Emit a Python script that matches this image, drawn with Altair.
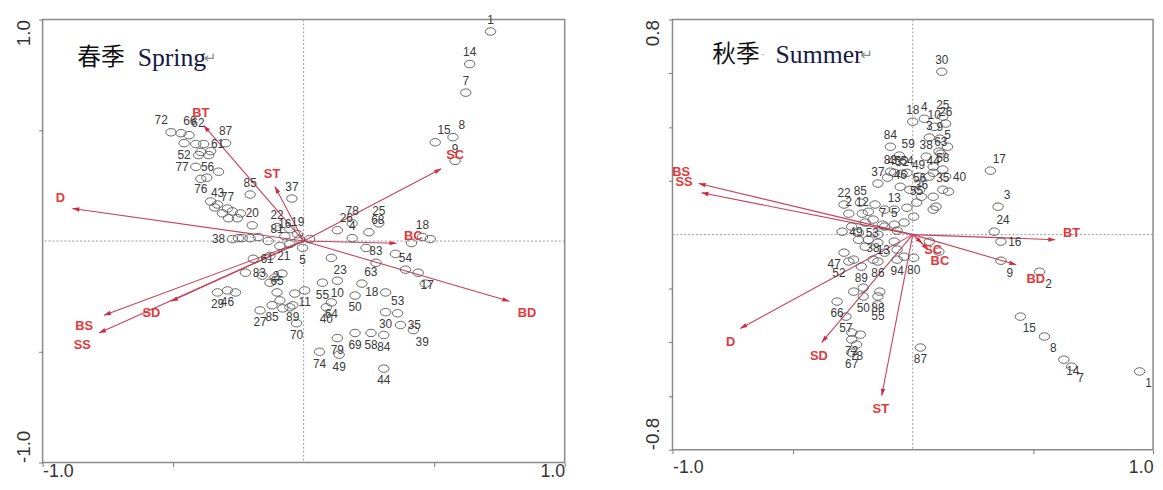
import math
import altair as alt
import pandas as pd

# ---------------- Spring (left panel) site scores ----------------
spring_x = [0.716, 0.636, 0.621, 0.504, 0.572, 0.580, 0.455, 0.485, 0.413, 0.129,
            0.186, 0.288, 0.250, 0.186, 0.239, 0.106, 0.277, 0.352, 0.223, 0.390,
            0.439, 0.466, 0.314, 0.314, 0.360, 0.371, 0.420, 0.258, 0.307, 0.307,
            0.061, 0.136, 0.129, 0.197, 0.197, 0.087, 0.106, 0.072, 0.129, 0.004,
            -0.027, -0.042, -0.004, -0.273, -0.235, -0.205, -0.174, -0.136, -0.091, -0.053,
            -0.193, -0.129, -0.223, -0.159, -0.330, -0.292, -0.261, -0.167, -0.129, -0.102,
            -0.091, -0.080, -0.053, -0.034, -0.110, -0.083, -0.121, -0.508, -0.470, -0.439,
            -0.299, -0.458, -0.413, -0.383, -0.356, -0.394, -0.402, -0.364, -0.413, -0.326,
            -0.394, -0.371, -0.205, -0.045, -0.356, -0.330, -0.292, -0.273, -0.242, -0.311,
            -0.288, -0.254, -0.341, -0.197, -0.102, -0.053, -0.023, -0.250, -0.015, 0.023,
            -0.072]
spring_y = [0.946, 0.799, 0.670, 0.446, 0.469, 0.362, 0.018, 0.009, -0.009, 0.049,
            0.080, 0.080, 0.040, 0.013, -0.031, -0.076, -0.098, -0.058, -0.192, -0.129,
            -0.143, -0.192, -0.232, -0.321, -0.326, -0.379, -0.402, -0.415, -0.424, -0.576,
            -0.500, -0.513, -0.438, -0.415, -0.246, -0.299, -0.277, -0.188, -0.179, -0.223,
            -0.371, -0.290, -0.031, 0.009, 0.013, 0.013, 0.018, 0.000, -0.022, -0.013,
            -0.080, -0.067, -0.143, -0.156, -0.232, -0.223, -0.232, -0.313, -0.188, -0.232,
            -0.268, -0.304, -0.299, -0.237, -0.165, -0.147, -0.290, 0.491, 0.487, 0.478,
            0.442, 0.442, 0.438, 0.438, 0.406, 0.402, 0.388, 0.388, 0.335, 0.313,
            0.281, 0.286, 0.210, 0.192, 0.179, 0.165, 0.147, 0.134, 0.125, 0.125,
            0.103, 0.103, 0.152, 0.071, 0.063, 0.054, 0.031, 0.013, 0.009, 0.009,
            0.022]
spring_id = ["1", "14", "7", "15", "8", "9", "18", "", "", "26",
             "78", "25", "68", "4", "", "23", "83", "", "63", "54",
             "17", "", "18", "30", "53", "35", "39", "58", "84", "44",
             "74", "49", "79", "69", "50", "40", "64", "55", "10", "11",
             "70", "89", "5", "38", "", "", "", "81", "", "",
             "61", "21", "83", "2", "29", "46", "", "27", "", "65",
             "", "", "", "", "", "", "85", "72", "66", "62",
             "87", "52", "", "61", "", "", "56", "", "77", "",
             "", "", "85", "37", "76", "43", "77", "", "", "",
             "", "", "", "20", "22", "", "19", "", "", "",
             "16"]
spring_lp = ["a", "a", "a", "ar", "ar", "a", "a", "a", "a", "ar",
             "a", "a", "ar", "a", "a", "br", "a", "a", "ar", "a",
             "br", "a", "l", "b", "a", "r", "br", "b", "b", "b",
             "b", "b", "b", "b", "b", "b", "b", "b", "b", "b",
             "b", "b", "b", "l", "a", "a", "a", "ar", "a", "a",
             "r", "r", "r", "r", "b", "b", "a", "b", "a", "a",
             "a", "a", "a", "a", "a", "a", "b", "al", "ar", "ar",
             "a", "b", "a", "r", "a", "a", "br", "a", "l", "a",
             "a", "a", "a", "a", "al", "a", "a", "a", "a", "a",
             "a", "a", "a", "a", "a", "a", "a", "a", "a", "a",
             "a"]

spring_env = ["BT", "ST", "D", "BS", "SS", "SD", "SC", "BC", "BD"]
spring_env_x = [-0.383, -0.110, -0.886, -0.765, -0.784, -0.508, 0.527, 0.356, 0.788]
spring_env_y = [0.522, 0.246, 0.147, -0.335, -0.415, -0.272, 0.326, -0.010, -0.272]
spring_env_lx = [-0.394, -0.121, -0.932, -0.841, -0.848, -0.583, 0.580, 0.420, 0.856]
spring_env_ly = [0.580, 0.304, 0.196, -0.384, -0.469, -0.326, 0.388, 0.022, -0.326]

# ---------------- Summer (right panel) site scores ----------------
summer_x = [0.121, 0.125, 0.000, 0.048, 0.089, 0.137, 0.069, 0.113, 0.145, -0.093,
            -0.056, 0.056, 0.117, 0.323, 0.355, 0.339, 0.367, -0.145, -0.093, -0.044,
            -0.286, -0.218, -0.266, -0.210, -0.077, -0.125, -0.077, 0.085, 0.137, 0.149,
            0.085, 0.036, 0.109, 0.085, 0.125, 0.069, 0.024, -0.024, -0.077, -0.105,
            -0.052, -0.012, 0.028, 0.085, 0.125, 0.097, 0.016, -0.024, 0.004, -0.036,
            -0.117, -0.157, -0.185, -0.165, -0.117, -0.198, -0.254, -0.294, -0.226, -0.065,
            -0.145, -0.185, -0.286, -0.266, -0.246, -0.214, -0.165, -0.117, -0.065, -0.036,
            0.004, -0.145, -0.077, -0.198, -0.226, -0.145, -0.065, -0.246, -0.206, -0.137,
            -0.206, -0.145, -0.145, -0.315, -0.278, -0.254, -0.218, -0.254, -0.234, -0.254,
            0.032, 0.069, 0.109, 0.367, 0.528, 0.448, 0.548, 0.629, 0.661, 0.944]
summer_y = [0.606, 0.439, 0.420, 0.431, 0.401, 0.413, 0.361, 0.357, 0.327, 0.327,
            0.294, 0.290, 0.301, 0.238, 0.104, 0.011, -0.026, 0.190, 0.234, 0.227,
            0.112, 0.119, 0.078, 0.078, 0.093, 0.037, 0.037, 0.230, 0.216, 0.160,
            0.093, 0.141, 0.309, 0.253, 0.242, 0.216, 0.216, 0.230, 0.230, 0.212,
            0.178, 0.167, 0.167, 0.141, 0.167, 0.104, 0.119, 0.100, 0.067, 0.045,
            0.093, 0.112, 0.085, 0.056, 0.030, 0.045, 0.030, 0.011, 0.007, 0.015,
            0.000, -0.019, -0.067, -0.100, -0.093, -0.119, -0.093, -0.067, -0.056, -0.082,
            -0.086, -0.030, -0.026, -0.045, -0.019, -0.100, -0.093, -0.212, -0.197, -0.212,
            -0.230, -0.230, -0.260, -0.249, -0.305, -0.364, -0.372, -0.390, -0.409, -0.439,
            -0.420, -0.026, -0.063, -0.097, -0.138, -0.305, -0.379, -0.465, -0.491, -0.509]
summer_id = ["30", "25", "18", "4", "10", "26", "3", "9", "5", "84",
             "59", "38", "63", "17", "3", "24", "16", "37", "83", "32",
             "22", "85", "2", "12", "13", "7", "5", "44", "40", "",
             "", "36", "", "", "58", "", "49", "54", "45", "",
             "46", "", "56", "", "35", "", "55", "", "", "",
             "", "", "", "", "", "", "", "49", "53", "",
             "", "", "47", "52", "", "89", "38", "", "13", "",
             "80", "", "", "", "", "86", "94", "", "", "",
             "50", "88", "55", "66", "57", "", "", "72", "78", "67",
             "87", "", "", "9", "2", "15", "8", "14", "7", "1"]
summer_lp = ["a", "a", "a", "a", "a", "a", "a", "a", "a", "a",
             "ar", "a", "a", "ar", "ar", "ar", "r", "a", "a", "a",
             "a", "a", "a", "a", "a", "a", "a", "a", "r", "a",
             "a", "a", "a", "a", "a", "a", "a", "a", "a", "a",
             "a", "a", "a", "a", "a", "a", "a", "a", "a", "a",
             "a", "a", "a", "a", "a", "a", "a", "r", "r", "a",
             "a", "a", "bl", "bl", "a", "b", "a", "a", "l", "a",
             "b", "a", "a", "a", "a", "b", "b", "a", "a", "a",
             "b", "b", "b", "b", "b", "a", "a", "b", "b", "b",
             "b", "a", "a", "br", "br", "br", "br", "br", "br", "br"]

summer_env = ["BS", "SS", "BT", "BD", "SC", "BC", "D", "SD", "ST"]
summer_env_x = [-0.891, -0.879, 0.593, 0.431, 0.040, 0.065, -0.718, -0.379, -0.129]
summer_env_y = [0.190, 0.156, -0.019, -0.112, -0.033, -0.056, -0.349, -0.401, -0.599]
summer_env_lx = [-0.964, -0.952, 0.661, 0.512, 0.085, 0.113, -0.758, -0.391, -0.133]
summer_env_ly = [0.234, 0.197, 0.007, -0.164, -0.059, -0.100, -0.398, -0.450, -0.647]

# panel title pieces (data coordinates)
spring_title = ["春季", "Spring", "↵"]
spring_title_x = [-0.867, -0.636, -0.383]
spring_title_y = [0.826, 0.826, 0.826]
summer_title = ["秋季", "·", "Summer", "↵"]
summer_title_x = [-0.834, -0.630, -0.571, -0.219]
summer_title_y = [0.669, 0.669, 0.669, 0.669]

LABEL_OFFSETS = {"a": (0, 12), "b": (0, -12), "ar": (9, 12), "br": (9, -12),
                 "al": (-10, 12), "bl": (-10, -12), "l": (-14, 0), "r": (14, 0)}

ELLIPSE = "M-1,0 A1,0.72 0 1,0 1,0 A1,0.72 0 1,0 -1,0 Z"
ARROWHEAD = "M0,0 L0.9,2.8 L-0.9,2.8 Z"

GRAY = "#8a8a8a"
LINE_RED = "#c9405c"
HEAD_RED = "#d8263c"
TEXT_RED = "#e3383c"


def build_panel(px, py, pid, plp, ename, ex, ey, elx, ely, titles, tx, ty, title_styles,
                W, H, ydom, xticks, yticks, ylabels, x_pad, y_pad):
    sx = W / 2.0
    sy = H / (ydom[1] - ydom[0])
    pts = pd.DataFrame({"x": px, "y": py, "id": pid, "lp": plp})
    pts["lx"] = [x + LABEL_OFFSETS[p][0] / sx for x, p in zip(px, plp)]
    pts["ly"] = [y + LABEL_OFFSETS[p][1] / sy for y, p in zip(py, plp)]
    env = pd.DataFrame({"name": ename, "tx": ex, "ty": ey, "lx": elx, "ly": ely})
    env["ox"] = 0.0
    env["oy"] = 0.0
    env["ang"] = [(math.degrees(math.atan2(a * sx, b * sy)) + 360) % 360 for a, b in zip(ex, ey)]
    zero = pd.DataFrame({"v": [0.0]})

    xs = alt.Scale(domain=[-1, 1], nice=False, zero=False)
    ys = alt.Scale(domain=ydom, nice=False, zero=False)
    xax = alt.Axis(values=xticks, title=None, grid=False, domain=False, labelFlush=True,
                   labelOverlap=False, labelPadding=x_pad, labelFontSize=18,
                   labelExpr="datum.value == 1 ? '1.0' : (datum.value == -1 ? '-1.0' : '')")
    yexpr = ("datum.value == %s ? '%s' : (datum.value == %s ? '%s' : '')"
             % (ydom[1], ylabels[1], ydom[0], ylabels[0]))
    yax = alt.Axis(values=yticks, title=None, grid=False, domain=False, labelOverlap=False,
                   labelAngle=270, labelBaseline="bottom", labelPadding=y_pad, labelFontSize=19,
                   labelAlign={"condition": {"test": "datum.value > 0", "value": "right"},
                               "value": "left"},
                   labelExpr=yexpr)

    def X(f):
        return alt.X(f, type="quantitative", scale=xs, axis=xax)

    def Y(f):
        return alt.Y(f, type="quantitative", scale=ys, axis=yax)

    vline = alt.Chart(zero).mark_rule(color="#9a9a9a", strokeDash=[2, 2], strokeWidth=1).encode(x=X("v"))
    hline = alt.Chart(zero).mark_rule(color="#9a9a9a", strokeDash=[2, 2], strokeWidth=1).encode(y=Y("v"))
    circles = alt.Chart(pts).mark_point(shape=ELLIPSE, size=110, filled=False, color="#555555",
                                        strokeWidth=0.9, opacity=1).encode(x=X("x"), y=Y("y"))
    labels = alt.Chart(pts).mark_text(font="Liberation Sans", fontSize=12, color="#3a3a3a",
                                      baseline="middle").encode(x=X("lx"), y=Y("ly"), text="id:N")
    arrows = alt.Chart(env).mark_rule(color=LINE_RED, strokeWidth=1.1).encode(
        x=X("ox"), y=Y("oy"), x2="tx:Q", y2="ty:Q")
    heads = alt.Chart(env).mark_point(shape=ARROWHEAD, size=25, filled=True, color=HEAD_RED,
                                      opacity=1).encode(
        x=X("tx"), y=Y("ty"), angle=alt.Angle("ang:Q", scale=None))
    elabels = alt.Chart(env).mark_text(font="Liberation Sans", fontWeight="bold", fontSize=13,
                                       color=TEXT_RED, baseline="middle").encode(
        x=X("lx"), y=Y("ly"), text="name:N")
    layers = [vline, hline, arrows, circles, labels, heads, elabels]
    for t, x, y, st in zip(titles, tx, ty, title_styles):
        tdf = pd.DataFrame({"t": [t], "x": [x], "y": [y]})
        layers.append(alt.Chart(tdf).mark_text(align="left", baseline="middle", **st).encode(
            x=X("x"), y=Y("y"), text="t:N"))
    return alt.layer(*layers).properties(width=W, height=H)


cjk = {"font": "Noto Sans CJK SC", "fontSize": 24, "color": "#111111"}
latin = {"font": "Liberation Serif", "fontSize": 26, "color": "#151a45"}
ret = {"font": "DejaVu Sans", "fontSize": 15, "color": "#8a8a8a"}
dot = {"font": "DejaVu Sans", "fontSize": 10, "color": "#7a8ab0"}

left = build_panel(spring_x, spring_y, spring_id, spring_lp,
                   spring_env, spring_env_x, spring_env_y, spring_env_lx, spring_env_ly,
                   spring_title, spring_title_x, spring_title_y, [cjk, latin, ret],
                   528, 448, [-1, 1], [-1, -0.5, 0.5, 1], [-1, -0.5, 0.5, 1], ["-1.0", "1.0"],
                   -4, 5)
right = build_panel(summer_x, summer_y, summer_id, summer_lp,
                    summer_env, summer_env_x, summer_env_y, summer_env_lx, summer_env_ly,
                    summer_title, summer_title_x, summer_title_y, [cjk, dot, latin, ret],
                    486, 435, [-0.8, 0.8], [-1, -0.5, 0.5, 1],
                    [-0.8, -0.6, -0.4, -0.2, 0.2, 0.4, 0.6, 0.8], ["-0.8", "0.8"],
                    5, 6)

chart = alt.hconcat(left, right, spacing=77).properties(
    padding={"left": 6, "top": 2, "right": 0, "bottom": 0}
).configure_view(stroke=GRAY, strokeWidth=1.5).configure_axis(
    tickColor="#7a7a7a", tickSize=4, tickWidth=1, labelColor="#333333",
    labelFont="Liberation Sans"
)

chart.save("out.html", embed_options={"renderer": "svg", "actions": False})
